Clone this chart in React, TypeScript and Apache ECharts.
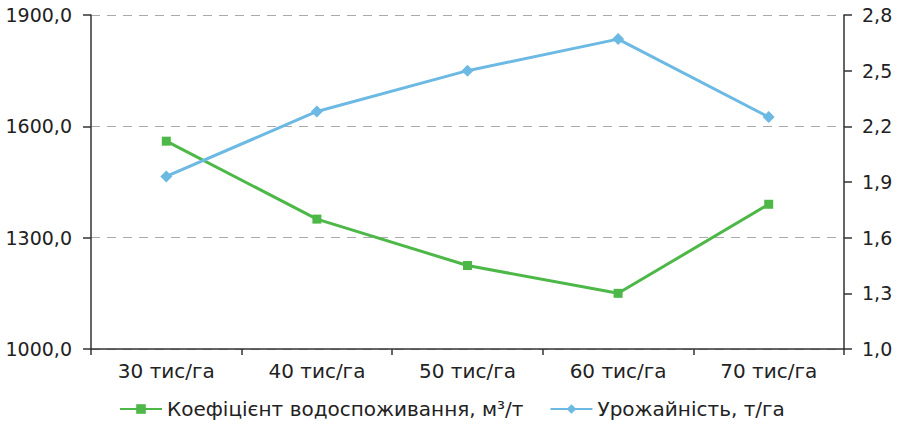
import React, { useEffect, useRef } from "react";
import * as echarts from "echarts";

const categories = ["30 тис/га", "40 тис/га", "50 тис/га", "60 тис/га", "70 тис/га"];
const waterCoef = [1560, 1350, 1225, 1150, 1390];
const yieldVals = [1.93, 2.28, 2.5, 2.67, 2.25];
const leftTicks = [1000, 1300, 1600, 1900];
const rightTicks = [1.0, 1.3, 1.6, 1.9, 2.2, 2.5, 2.8];
const seriesNames = ["Коефіцієнт водоспоживання, м³/т", "Урожайність, т/га"];

const FONT = "DejaVu Sans, Liberation Sans, sans-serif";
const FS = 19;
const FS_TXT = 20;

export default function App() {
  const ref = useRef<HTMLDivElement>(null);
  useEffect(() => {
    if (!ref.current) return;
    const chart = echarts.init(ref.current, null, { renderer: "svg" });
    chart.setOption({
      animation: false,
      textStyle: { fontFamily: FONT },
      grid: { left: 91, right: 56, top: 15, bottom: 81 },
      legend: {
        bottom: 6,
        left: 114,
        itemWidth: 42,
        itemHeight: 12,
        itemGap: 26,
        textStyle: { fontSize: FS_TXT, color: "#222", fontFamily: FONT },
        data: seriesNames,
      },
      xAxis: {
        type: "category",
        data: categories,
        boundaryGap: true,
        axisLine: { lineStyle: { color: "#333", width: 1.5 } },
        axisTick: { show: true, length: 6, alignWithLabel: false, lineStyle: { color: "#333", width: 1.5 } },
        axisLabel: { fontSize: FS_TXT, color: "#222", margin: 12, fontFamily: FONT },
      },
      yAxis: [
        {
          type: "value",
          min: 1000,
          max: 1900,
          position: "left",
          axisLine: { show: true, lineStyle: { color: "#333", width: 1.5 } },
          axisTick: { show: true, length: 8, customValues: leftTicks, lineStyle: { color: "#333", width: 1.5 } },
          axisLabel: {
            customValues: leftTicks,
            fontSize: FS,
            color: "#222",
            margin: 19,
            fontFamily: FONT,
            formatter: (v: number) => v.toFixed(1).replace(".", ","),
          },
          splitLine: { show: true, lineStyle: { color: "#aaa", type: [9, 7], width: 1.2 } },
        },
        {
          type: "value",
          min: 1.0,
          max: 2.8,
          position: "right",
          axisLine: { show: true, lineStyle: { color: "#333", width: 1.5 } },
          axisTick: { show: true, length: 8, customValues: rightTicks, lineStyle: { color: "#333", width: 1.5 } },
          axisLabel: {
            customValues: rightTicks,
            fontSize: FS,
            color: "#222",
            margin: 18,
            fontFamily: FONT,
            formatter: (v: number) => v.toFixed(1).replace(".", ","),
          },
          splitLine: { show: false },
        },
      ],
      series: [
        {
          name: seriesNames[0],
          type: "line",
          yAxisIndex: 0,
          data: waterCoef,
          symbol: "rect",
          symbolSize: 9,
          lineStyle: { color: "#4db848", width: 3 },
          itemStyle: { color: "#4db848" },
        },
        {
          name: seriesNames[1],
          type: "line",
          yAxisIndex: 1,
          data: yieldVals,
          symbol: "diamond",
          symbolSize: 12,
          lineStyle: { color: "#6cb9e3", width: 3 },
          itemStyle: { color: "#6cb9e3" },
        },
      ],
    });
    return () => chart.dispose();
  }, []);
  return <div ref={ref} style={{ width: 900, height: 430, position: "absolute", left: 0, top: 0 }} />;
}
